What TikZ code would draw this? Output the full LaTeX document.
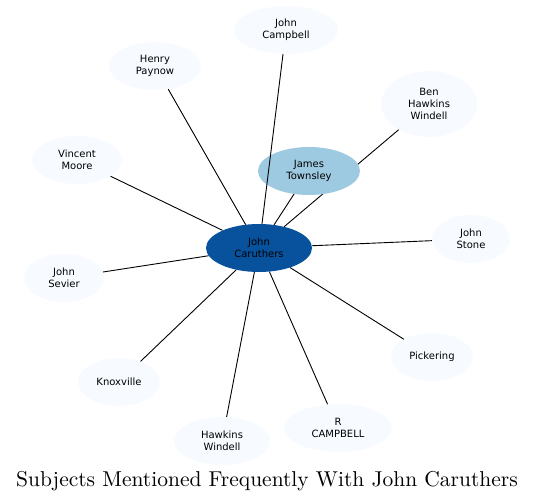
\documentclass[tikz,border=0pt]{standalone}
\usepackage{fontspec}
\setsansfont{DejaVu Sans}
\newfontfamily\titlefont{lmroman10-regular}[Extension=.otf]
\usetikzlibrary{shapes.geometric}
\definecolor{lightnode}{HTML}{F7FBFF}
\definecolor{midnode}{HTML}{9ECAE1}
\definecolor{darknode}{HTML}{08519C}
\tikzset{
  subj/.style={ellipse, fill=lightnode, draw=none, inner sep=0pt, align=center,
    font=\sffamily\fontsize{10}{12}\selectfont, text=black},
  link/.style={draw=black, line width=0.9pt},
}
\begin{document}
\begin{tikzpicture}[x=1pt,y=-1pt]
\useasboundingbox (0,0) rectangle (535,502);
% nodes (positions in px)
\node[subj, minimum width=106, minimum height=48, fill=darknode] (jc) at (259,248) {John\\Caruthers};
\node[subj, minimum width=104, minimum height=48] (camp) at (286,30) {John\\Campbell};
\node[subj, minimum width=92, minimum height=48] (pay) at (155,66) {Henry\\Paynow};
\node[subj, minimum width=96, minimum height=66] (ben) at (429,104) {Ben\\Hawkins\\Windell};
\node[subj, minimum width=90, minimum height=48] (moore) at (77,160) {Vincent\\Moore};
\node[subj, minimum width=78, minimum height=48] (stone) at (471,239) {John\\Stone};
\node[subj, minimum width=80, minimum height=48] (sev) at (64,278) {John\\Sevier};
\node[subj, minimum width=82, minimum height=48] (pick) at (432,357) {Pickering};
\node[subj, minimum width=82, minimum height=48] (knox) at (119,382) {Knoxville};
\node[subj, minimum width=96, minimum height=48] (hw) at (222,441) {Hawkins\\Windell};
\node[subj, minimum width=108, minimum height=48] (rc) at (338,428) {R\\CAMPBELL};
% edges hidden under James Townsley
\draw[link] (jc) -- (ben);
\draw[link] (jc) -- (309,171);
\node[subj, minimum width=102, minimum height=48, fill=midnode] (jt) at (309,171) {James\\Townsley};
% other edges
\draw[link] (jc) -- (camp);
\draw[link] (jc) -- (pay);
\draw[link] (jc) -- (moore);
\draw[link] (jc) -- (stone);
\draw[link] (jc) -- (sev);
\draw[link] (jc) -- (pick);
\draw[link] (jc) -- (knox);
\draw[link] (jc) -- (hw);
\draw[link] (jc) -- (rc);
% title
\node[font=\titlefont\fontsize{21.5}{24}\selectfont, anchor=base] (title) at (267,486) {Subjects Mentioned Frequently With John Caruthers};
\end{tikzpicture}
\end{document}
